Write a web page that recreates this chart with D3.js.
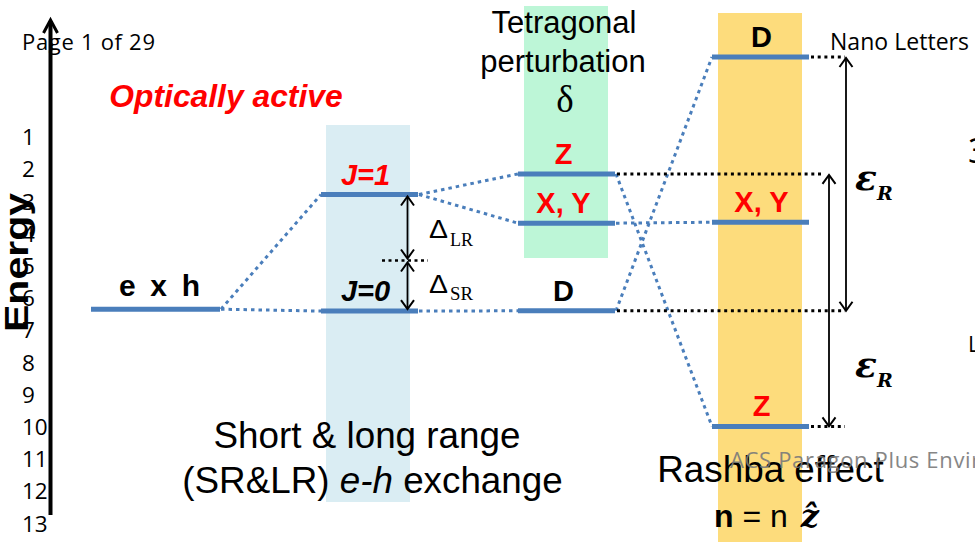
<!DOCTYPE html>
<html><head><meta charset="utf-8">
<script src="https://cdn.jsdelivr.net/npm/d3@7"></script>
<style>html,body{margin:0;padding:0;background:#fff;overflow:hidden}svg{display:block}</style>
</head><body>
<svg id="c" width="975" height="542"></svg>
<script>
// ---------------- DATA ----------------
const tickLabels = [1, 2, 3, 4, 5, 6, 7, 8, 9, 10, 11, 12, 13];
const columns = ["bare", "exchange", "tetragonal", "rashba"];
const levelColumn = ["bare", "exchange", "exchange", "tetragonal", "tetragonal", "tetragonal", "rashba", "rashba", "rashba"];
const levelEnergy = [6.33, 2.77, 6.39, 2.13, 3.66, 6.38, -1.50, 3.63, 9.97];
const levelLabel = ["e x h", "J=1", "J=0", "Z", "X, Y", "D", "D", "X, Y", "Z"];
const levelActive = [false, true, false, true, true, false, false, true, true];
const links = [[0, 1], [0, 2], [1, 3], [1, 4], [2, 5], [3, 8], [4, 7], [5, 6]];
const srReference = 4.82;           // J=0 + Δ_SR
const guideLevels = [6, 3, 5, 8];   // levels extended to the ε_R arrows
const rashbaPairs = [[6, 5], [3, 8]]; // ε_R splittings (upper, lower)

// ---------------- LAYOUT ----------------
const svg = d3.select("#c");
const y = d3.scaleLinear().domain([1, 13]).range([137.5, 524]);
const xCenter = d3.scaleOrdinal().domain(columns).range([155.5, 369.5, 566.5, 760.5]);
const halfW = d3.scaleOrdinal().domain(columns).range([64.5, 48.5, 48.5, 48.5]);
const labelDx = d3.scaleOrdinal().domain(columns).range([4, -4, -3, 1]);
const labelItalic = d3.scaleOrdinal().domain(columns).range([false, true, false, false]);
const guideEnd = [845, 822, 845, 845];
const epsX = [846, 829];

const BLUE = "#4a7ebb", RED = "#ff0000";
const SANS = "'Liberation Sans', Arial, sans-serif";
const SERIF = "'Liberation Serif', 'Times New Roman', serif";
const MYRIAD = "'Open Sans', 'Noto Sans', sans-serif";

// background bands
const bands = [
  {x0: 326, x1: 410, y0: 125, y1: 502, fill: "#daedf3"},
  {x0: 524, x1: 608, y0: 6, y1: 258, fill: "#bdf6d7"},
  {x0: 718, x1: 802, y0: 13, y1: 542, fill: "#fddc7c"}
];
svg.selectAll("rect.band").data(bands).join("rect").attr("class", "band")
  .attr("x", d => d.x0).attr("y", d => d.y0)
  .attr("width", d => d.x1 - d.x0).attr("height", d => d.y1 - d.y0)
  .attr("fill", d => d.fill);

function txt(x, yy, s, o = {}) {
  const t = svg.append("text").attr("x", x).attr("y", yy)
    .attr("font-family", o.family || SANS)
    .attr("font-size", o.size || 20)
    .attr("font-weight", o.weight || "normal")
    .attr("font-style", o.style || "normal")
    .attr("fill", o.fill || "#000")
    .attr("text-anchor", o.anchor || "start");
  if (o.len) t.attr("textLength", o.len).attr("lengthAdjust", o.adjust || "spacing");
  if (o.opacity) t.attr("opacity", o.opacity);
  if (s !== null) t.text(s);
  return t;
}

// ---------------- AXIS ----------------
const axis = d3.axisLeft(y).tickValues(tickLabels).tickSize(0).tickFormat(d3.format("d"));
const ag = svg.append("g").attr("transform", "translate(22,0)").call(axis);
ag.select(".domain").remove();
ag.selectAll("text").attr("x", 0).attr("text-anchor", "start")
  .attr("font-family", MYRIAD).attr("font-size", 22.5).attr("fill", "#000");
svg.append("line").attr("x1", 50.5).attr("x2", 50.5).attr("y1", 21).attr("y2", 515)
  .attr("stroke", "#000").attr("stroke-width", 4);
svg.append("path").attr("d", "M43.5,33 L50.5,20 L57.5,33").attr("fill", "none")
  .attr("stroke", "#000").attr("stroke-width", 3);

txt(22, 50, "Page 1 of 29", {family: MYRIAD, size: 22, len: 133});
txt(830, 50, "Nano Letters", {family: MYRIAD, size: 23, len: 139});
svg.append("text").attr("transform", "translate(28,262.5) rotate(-90)")
  .attr("text-anchor", "middle").attr("font-family", SANS).attr("font-weight", "bold")
  .attr("font-size", 34).attr("textLength", 139).attr("lengthAdjust", "spacingAndGlyphs")
  .text("Energy");

// ---------------- CONNECTORS ----------------
const lx = i => xCenter(levelColumn[i]) - halfW(levelColumn[i]);
const rx = i => xCenter(levelColumn[i]) + halfW(levelColumn[i]);
svg.selectAll("line.link").data(links).join("line").attr("class", "link")
  .attr("x1", d => rx(d[0]) + 1).attr("y1", d => y(levelEnergy[d[0]]))
  .attr("x2", d => lx(d[1])).attr("y2", d => y(levelEnergy[d[1]]))
  .attr("stroke", BLUE).attr("stroke-width", 3).attr("stroke-dasharray", "3.5,4");

svg.selectAll("line.guide").data(guideLevels).join("line").attr("class", "guide")
  .attr("x1", d => rx(d) + 2).attr("y1", d => y(levelEnergy[d]))
  .attr("x2", (d, i) => guideEnd[i]).attr("y2", d => y(levelEnergy[d]))
  .attr("stroke", "#000").attr("stroke-width", 3).attr("stroke-dasharray", "3,3.7");

// SR reference (short dotted)
svg.append("line").attr("x1", 382).attr("x2", 428).attr("y1", y(srReference)).attr("y2", y(srReference))
  .attr("stroke", "#000").attr("stroke-width", 2.5).attr("stroke-dasharray", "3,3.5");

// ---------------- LEVELS ----------------
const lv = d3.range(levelEnergy.length);
svg.selectAll("line.level").data(lv).join("line").attr("class", "level")
  .attr("x1", lx).attr("x2", rx)
  .attr("y1", i => y(levelEnergy[i])).attr("y2", i => y(levelEnergy[i]))
  .attr("stroke", BLUE).attr("stroke-width", 5);

lv.forEach(i => {
  const c = levelColumn[i];
  txt(xCenter(c) + labelDx(c), y(levelEnergy[i]) - (c === "bare" ? 13 : 10), levelLabel[i], {
    size: c === "bare" ? 30 : 29, weight: "bold", style: labelItalic(c) ? "italic" : "normal",
    fill: levelActive[i] ? RED : "#000", anchor: "middle",
    len: c === "bare" ? 81 : null
  });
});

// ---------------- ARROWS ----------------
function dArrow(x, y1, y2, w) {
  svg.append("line").attr("x1", x).attr("x2", x).attr("y1", y1 + 1).attr("y2", y2 - 1)
    .attr("stroke", "#000").attr("stroke-width", w);
  const hw = 6.5, hl = 9;
  svg.append("path").attr("d", `M${x - hw},${y1 + hl} L${x},${y1} L${x + hw},${y1 + hl}`)
    .attr("fill", "none").attr("stroke", "#000").attr("stroke-width", 2);
  svg.append("path").attr("d", `M${x - hw},${y2 - hl} L${x},${y2} L${x + hw},${y2 - hl}`)
    .attr("fill", "none").attr("stroke", "#000").attr("stroke-width", 2);
}
dArrow(407.5, y(levelEnergy[1]) + 2, y(srReference) - 2, 1.8);
dArrow(407.5, y(srReference) + 2, y(levelEnergy[2]) - 2, 1.8);
rashbaPairs.forEach((p, k) => dArrow(epsX[k], y(levelEnergy[p[0]]) + 1, y(levelEnergy[p[1]]), 1.8));

// Δ labels
[["LR", 238, 246], ["SR", 293, 300]].forEach(([s, b, sb]) => {
  txt(429, b, "Δ", {size: 25, family: SANS, len: 19, adjust: "spacingAndGlyphs"});
  txt(450, sb, s, {size: 18, family: SERIF, len: 23, adjust: "spacingAndGlyphs"});
});

// ε_R labels
[190, 377].forEach(b => {
  const t = txt(855, b, null, {family: "'DejaVu Serif', serif", weight: "bold", style: "italic", size: 36});
  t.append("tspan").text("ε");
  t.append("tspan").attr("font-size", 19).attr("dy", 10).text("R");
});

// ---------------- TEXT ----------------
txt(226, 107, "Optically active", {size: 31.8, weight: "bold", style: "italic", fill: RED, anchor: "middle"});
txt(564, 33, "Tetragonal", {size: 31, anchor: "middle"});
txt(563, 72, "perturbation", {size: 31, anchor: "middle"});
txt(565, 112, "δ", {size: 37, family: SERIF, anchor: "middle"});

txt(367, 448, "Short & long range", {size: 36.8, anchor: "middle"});
const l2 = txt(372.5, 493, null, {size: 36.8, anchor: "middle"});
l2.append("tspan").text("(SR&LR) ");
l2.append("tspan").attr("font-style", "italic").text("e-h");
l2.append("tspan").text(" exchange");

txt(770.5, 482, "Rashba effect", {size: 36.8, anchor: "middle"});
const nz = txt(714, 527, null, {size: 32});
nz.append("tspan").attr("font-weight", "bold").text("n");
nz.append("tspan").text(" = n ");
nz.append("tspan").attr("font-family", "'DejaVu Serif', serif").attr("font-weight", "bold")
  .attr("font-style", "italic").attr("dx", 4).text("ẑ");

txt(730, 468, "ACS Paragon Plus Environment", {family: MYRIAD, size: 22, fill: "#7a7a7a", opacity: 0.9, len: 335});

// cut-off glyphs at right page edge
txt(968, 163, "3", {family: MYRIAD, size: 34});
txt(968, 352, "L", {family: MYRIAD, size: 22});
</script>
</body></html>
